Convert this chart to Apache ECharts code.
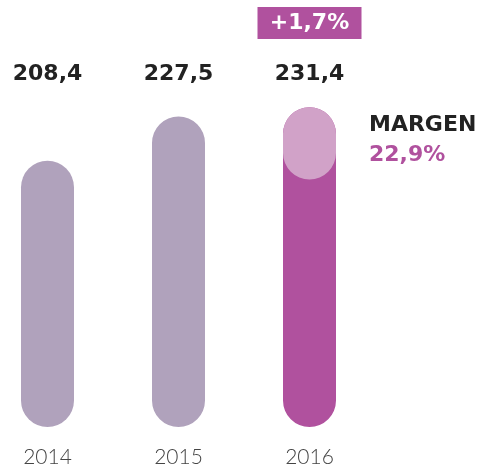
<!DOCTYPE html>
<html>
<head>
<meta charset="utf-8">
<script src="https://cdn.jsdelivr.net/npm/echarts@6/dist/echarts.min.js"></script>
<style>html,body{margin:0;padding:0;background:#fff;overflow:hidden;}#c{position:absolute;left:-18px;top:0;width:497px;height:470px;}</style>
</head>
<body>
<div id="c"></div>
<script>
var years = ['2014', '2015', '2016'];
var revenue = [208.4, 227.5, 231.4];
var growthLabel = '+1,7%';
var marginTitle = 'MARGEN';
var marginValue = '22,9%';

var GREY = '#b0a2bc', MAGENTA = '#b0519e', LIGHT = '#d1a2c8';
var SHIFT = 18;
var capUnits = 31;
var last = revenue.length - 1;

function fmt(v) { return v.toFixed(1).replace('.', ','); }

var chart = echarts.init(document.getElementById('c'), null, {renderer: 'canvas'});
var baseData = revenue.map(function (v, i) { return i === last ? v - capUnits : '-'; });
var capData = revenue.map(function (v, i) { return i === last ? capUnits : '-'; });

chart.setOption({
  animation: false,
  grid: {left: 0, right: 104, top: 85, bottom: 43, containLabel: false},
  xAxis: [{
    type: 'category', data: years, position: 'bottom',
    axisLine: {show: false}, axisTick: {show: false},
    axisLabel: {color: '#444', fontFamily: 'Lato', fontWeight: 300, fontSize: 21, margin: 30, verticalAlign: 'middle'}
  }, {
    type: 'category', data: revenue.map(fmt), position: 'top',
    axisLine: {show: false}, axisTick: {show: false},
    axisLabel: {color: '#222', fontFamily: 'DejaVu Sans', fontWeight: 'bold', fontSize: 22, margin: 11, verticalAlign: 'middle'}
  }],
  yAxis: {type: 'value', min: 94, max: 241, show: false, splitLine: {show: false}},
  series: [{
    type: 'bar', xAxisIndex: 0, data: revenue.map(function (v, i) {
      return {value: v, itemStyle: {color: i === last ? MAGENTA : GREY}};
    }),
    barWidth: 53, barGap: '-100%',
    itemStyle: {borderRadius: 26.5}
  }, {
    type: 'bar', xAxisIndex: 0, stack: 'cap', data: baseData, barWidth: 53,
    itemStyle: {color: 'rgba(0,0,0,0)'}, silent: true
  }, {
    type: 'bar', xAxisIndex: 0, stack: 'cap', data: capData, barWidth: 53,
    itemStyle: {color: LIGHT, borderRadius: 26.5}
  }]
});

var px = chart.convertToPixel({xAxisIndex: 0}, years[last]);
chart.setOption({
  graphic: [{
    type: 'rect', shape: {x: px - 52, y: 7, width: 104, height: 32},
    style: {fill: MAGENTA}
  }, {
    type: 'text', x: px, y: 23,
    style: {text: growthLabel, fill: '#fff', font: 'bold 22px "DejaVu Sans"', align: 'center', verticalAlign: 'middle'}
  }, {
    type: 'text', x: 369 + SHIFT, y: 125,
    style: {text: marginTitle, fill: '#222', font: 'bold 22px "DejaVu Sans"', align: 'left', verticalAlign: 'middle'}
  }, {
    type: 'text', x: 369 + SHIFT, y: 155,
    style: {text: marginValue, fill: MAGENTA, font: 'bold 22px "DejaVu Sans"', align: 'left', verticalAlign: 'middle'}
  }]
});
</script>
</body>
</html>
